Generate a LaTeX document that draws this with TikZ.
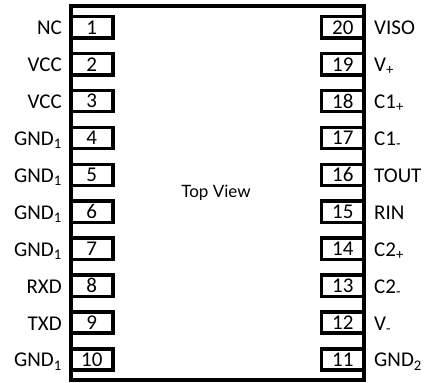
\documentclass[tikz,border=0pt]{standalone}
\usepackage{fontspec}
\setmainfont{Carlito}
\newfontfamily\latofont{Lato}
\usetikzlibrary{calc}

\begin{document}
\begin{tikzpicture}[x=1pt,y=-1pt,line join=miter,
  chip/.style={line width=4pt},
  pinbox/.style={draw,line width=3.5pt,minimum width=42.5pt,minimum height=21.3pt,inner sep=0pt,font=\fontsize{21}{24}\selectfont},
  pinlabel/.style={inner sep=0pt,font=\fontsize{21}{24}\selectfont}]
\useasboundingbox (0,0) rectangle (427,382);
\coordinate (NW) at (70.5,6);
\coordinate (SE) at (364,380);
\draw[chip] (NW) rectangle (SE);
% left row
\foreach \i/\g in {1/NC,2/VCC,3/VCC,4/GND\textsubscript{1},5/GND\textsubscript{1},6/GND\textsubscript{1},7/GND\textsubscript{1},8/RXD,9/TXD,10/GND\textsubscript{1}}{
  \node[pinbox] (p\i) at (91.75,{27.3+36.9*(\i-1)}) {\i};
  \node[pinlabel,anchor=base east] (l\i) at ($(p\i.center)+(-29.75,7.5)$) {\g};}
% right row
\foreach \i/\g in {20/VISO,19/V\textsubscript{+},18/C1\textsubscript{+},17/C1\textsubscript{-},16/TOUT,15/RIN,14/C2\textsubscript{+},13/C2\textsubscript{-},12/V\textsubscript{-},11/GND\textsubscript{2}}{
  \node[pinbox] (p\i) at (342.75,{27.3+36.9*(20-\i)}) {\i};
  \node[pinlabel,anchor=base west] (l\i) at ($(p\i.center)+(31.25,7.5)$) {\g};}
\node[font=\latofont\fontsize{17}{20}\selectfont] (top) at (216,193) {Top View};
\end{tikzpicture}
\end{document}
